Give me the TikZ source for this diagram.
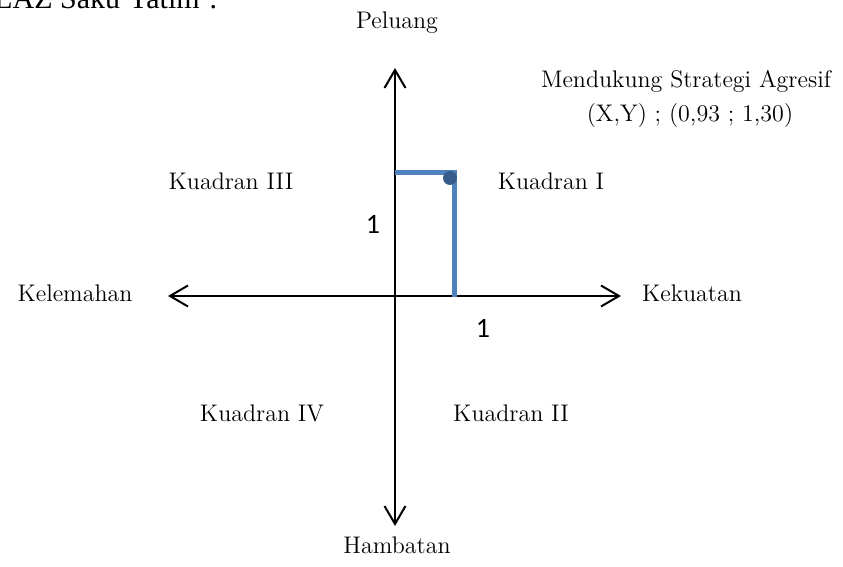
\documentclass[tikz,border=0pt]{standalone}
\usepackage{fontspec}
\usetikzlibrary{arrows.meta}
\usetikzlibrary{positioning}
\newfontfamily\calibrifont{Carlito}
\newfontfamily\timesfont{Liberation Serif}
\definecolor{lineblue}{HTML}{4F81BD}
\definecolor{dotblue}{HTML}{385D8A}

\begin{document}
\begin{tikzpicture}[x=0.5pt,y=-0.5pt,font=\fontsize{12}{14}\selectfont,
  >={Straight Barb[length=9pt,width=10.5pt]},
  axis/.style={line width=1pt,<->},
  blueline/.style={lineblue,line width=2.5pt},
  lbl/.style={anchor=base,inner sep=0pt},
  num/.style={font=\calibrifont\fontsize{14}{16}\selectfont,inner sep=0pt}]
\useasboundingbox (0,0) rectangle (843,567);

\coordinate (top) at (395,68);
\coordinate (bottom) at (395,526);
\coordinate (left) at (168,296);
\coordinate (right) at (621,296);

\coordinate (ytick) at (395,173);
\coordinate (pt) at (454,173);
\coordinate (xtick) at (454,297);

\node[anchor=base west,inner sep=0pt,font=\timesfont\fontsize{15}{18}\selectfont] (laz) at (-6,9) {LAZ Saku Yatim’.};

\node[lbl] (peluang) at (397,29) {Peluang};
\node[lbl] (hambatan) at (397,554) {Hambatan};
\node[lbl] (lemah) at (75,302) {Kelemahan};
\node[lbl] (kuat) at (692,302) {Kekuatan};

\node[lbl] (q3) at (231,190) {Kuadran III};
\node[lbl] (q1) at (551,190) {Kuadran I};
\node[lbl] (q4) at (262,422) {Kuadran IV};
\node[lbl] (q2) at (511,422) {Kuadran II};

\node[lbl] (strategi) at (686,88) {Mendukung Strategi Agresif};
\node[lbl] (xy) at (690,122) {(X,Y) ; (0,93 ; 1,30)};

\node[num] (ny) at (373,224) {1};
\node[num] (nx) at (483,328) {1};

\draw[axis] (bottom) -- (top);
\draw[axis] (left) -- (right);

\draw[blueline] (ytick) -- (pt) -- (xtick);
\fill[dotblue] (450,178) circle (3.5pt);

\end{tikzpicture}
\end{document}
